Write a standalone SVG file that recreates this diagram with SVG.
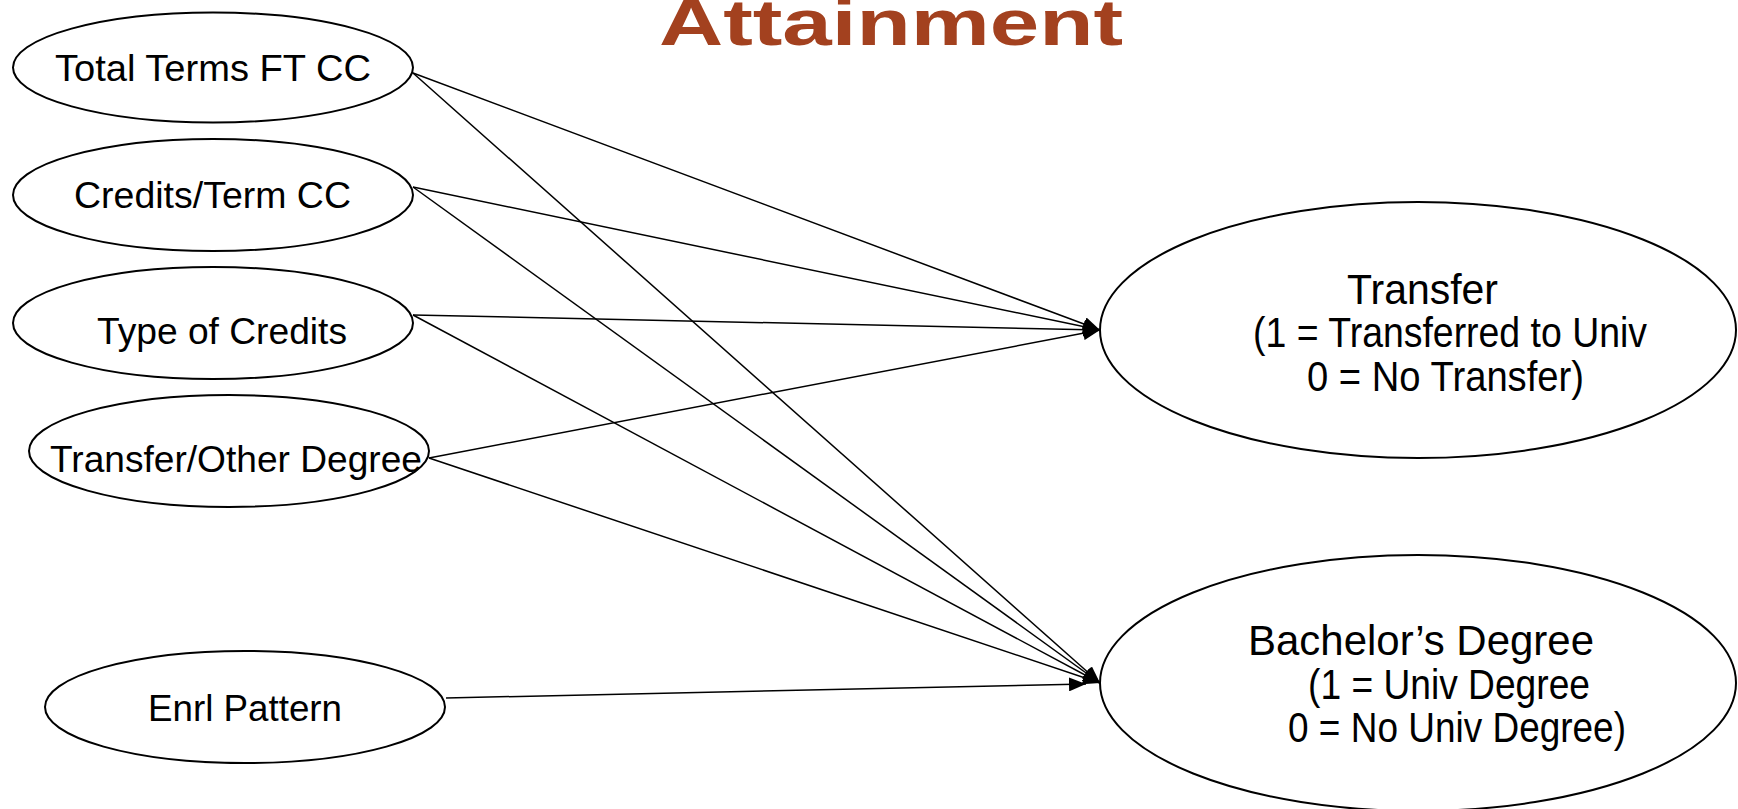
<svg xmlns="http://www.w3.org/2000/svg" width="1738" height="809" viewBox="0 0 1738 809">
<style>
  .node { fill: #ffffff; stroke: #000000; stroke-width: 2; }
  .lbl { font-family: "Liberation Sans", Arial, sans-serif; font-size: 37px; fill: #000000; }
  .big { font-family: "Liberation Sans", Arial, sans-serif; font-size: 42px; fill: #000000; }
  .edge { stroke: #000000; stroke-width: 1.5; fill: none; marker-end: url(#arrow); }
  .title { font-family: "Liberation Sans", Arial, sans-serif; font-weight: bold; font-size: 64px; fill: #A3411F; }
</style>
<defs>
  <marker id="arrow" markerUnits="userSpaceOnUse" markerWidth="18" markerHeight="14" refX="17" refY="7" orient="auto">
    <path d="M0,0 L17,7 L0,14 z" fill="#000000"/>
  </marker>
</defs>
<rect x="0" y="0" width="1738" height="809" fill="#ffffff"/>
<text class="title" x="659" y="45" textLength="464" lengthAdjust="spacingAndGlyphs">Attainment</text>
<g id="connectors">
  <line class="edge" x1="413" y1="73" x2="1100" y2="330"/>
  <line class="edge" x1="413" y1="73" x2="1100" y2="683"/>
  <line class="edge" x1="413" y1="187" x2="1100" y2="330"/>
  <line class="edge" x1="413" y1="187" x2="1100" y2="683"/>
  <line class="edge" x1="413" y1="315" x2="1100" y2="330"/>
  <line class="edge" x1="413" y1="315" x2="1100" y2="683"/>
  <line class="edge" x1="429" y1="458" x2="1100" y2="330"/>
  <line class="edge" x1="429" y1="458" x2="1100" y2="683"/>
  <line class="edge" x1="446" y1="698" x2="1086" y2="684"/>
</g>
<g id="node-total-terms">
  <ellipse class="node" cx="213" cy="67.5" rx="200" ry="55"/>
  <text class="lbl" x="55" y="81" textLength="316" lengthAdjust="spacingAndGlyphs">Total Terms FT CC</text>
</g>
<g id="node-credits-term">
  <ellipse class="node" cx="213" cy="195" rx="200" ry="56"/>
  <text class="lbl" x="74" y="208" textLength="277" lengthAdjust="spacingAndGlyphs">Credits/Term CC</text>
</g>
<g id="node-type-credits">
  <ellipse class="node" cx="213" cy="323" rx="200" ry="56"/>
  <text class="lbl" x="97" y="344" textLength="250" lengthAdjust="spacingAndGlyphs">Type of Credits</text>
</g>
<g id="node-transfer-other">
  <ellipse class="node" cx="229" cy="451" rx="200" ry="56"/>
  <text class="lbl" x="50" y="472" textLength="372" lengthAdjust="spacingAndGlyphs">Transfer/Other Degree</text>
</g>
<g id="node-enrl-pattern">
  <ellipse class="node" cx="245" cy="707" rx="200" ry="56"/>
  <text class="lbl" x="148" y="721" textLength="194" lengthAdjust="spacingAndGlyphs">Enrl Pattern</text>
</g>
<g id="node-transfer">
  <ellipse class="node" cx="1418" cy="330" rx="318" ry="128"/>
  <text class="big" x="1347" y="304" textLength="151" lengthAdjust="spacingAndGlyphs">Transfer</text>
  <text class="big" x="1253" y="347" textLength="394" lengthAdjust="spacingAndGlyphs">(1 = Transferred to Univ</text>
  <text class="big" x="1307" y="391" textLength="277" lengthAdjust="spacingAndGlyphs">0 = No Transfer)</text>
</g>
<g id="node-bachelor">
  <ellipse class="node" cx="1418" cy="683" rx="318" ry="128"/>
  <text class="big" x="1248" y="655" textLength="346" lengthAdjust="spacingAndGlyphs">Bachelor’s Degree</text>
  <text class="big" x="1308" y="699" textLength="282" lengthAdjust="spacingAndGlyphs">(1 = Univ Degree</text>
  <text class="big" x="1288" y="742" textLength="338" lengthAdjust="spacingAndGlyphs">0 = No Univ Degree)</text>
</g>
</svg>
